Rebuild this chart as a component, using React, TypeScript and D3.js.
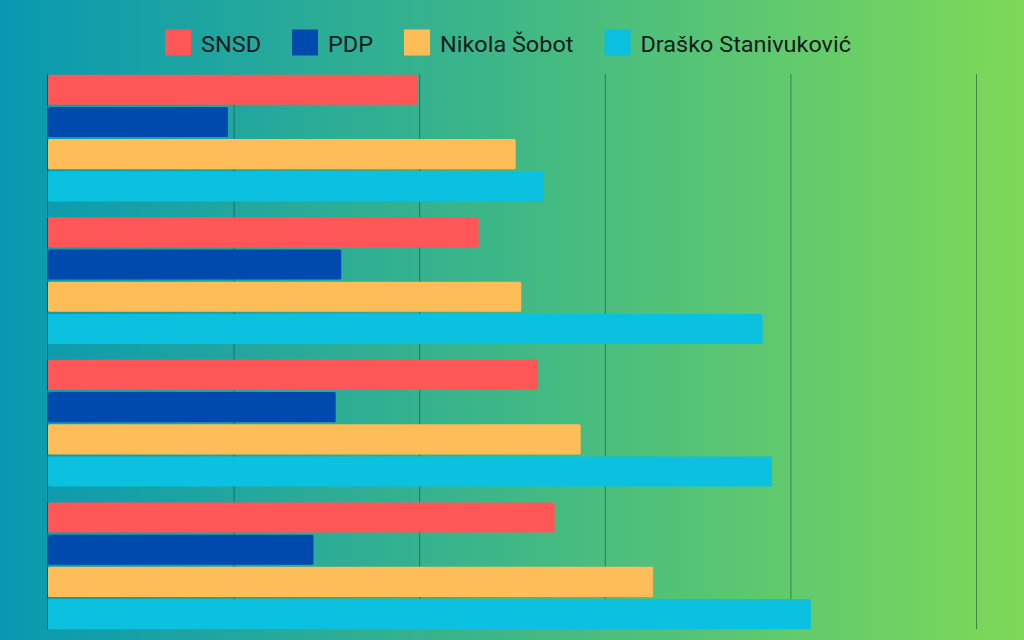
import React, { useEffect, useRef } from "react";
import * as d3 from "d3";

const groups = ["G1", "G2", "G3", "G4"];
const seriesNames = ["SNSD", "PDP", "Nikola Šobot", "Draško Stanivuković"];
const seriesColors = ["#ff5757", "#004aad", "#ffbd59", "#0cc0df"];
const snsd = [19.9, 23.2, 26.4, 27.3];
const pdp = [9.7, 15.8, 15.5, 14.3];
const sobot = [25.2, 25.5, 28.7, 32.6];
const stanivukovic = [26.7, 38.5, 39.0, 41.1];
const xTicks = [0, 10, 20, 30, 40, 50];

const W = 1024;
const H = 640;

export default function App() {
  const ref = useRef<SVGSVGElement | null>(null);

  useEffect(() => {
    const svg = d3.select(ref.current);
    svg.selectAll("*").remove();

    const defs = svg.append("defs");
    const grad = defs
      .append("linearGradient")
      .attr("id", "bg")
      .attr("x1", "0%")
      .attr("x2", "100%")
      .attr("y1", "0%")
      .attr("y2", "0%");
    grad.append("stop").attr("offset", "0%").attr("stop-color", "#0898b2");
    grad.append("stop").attr("offset", "50%").attr("stop-color", "#3fb886");
    grad.append("stop").attr("offset", "100%").attr("stop-color", "#7ed957");

    svg.append("rect").attr("width", W).attr("height", H).attr("fill", "url(#bg)");

    const values = [snsd, pdp, sobot, stanivukovic];

    const x = d3.scaleLinear().domain([0, 50]).range([48, 976]);
    const y0 = d3
      .scaleBand<string>()
      .domain(groups)
      .range([74.7, 629.2])
      .paddingInner(0.111)
      .paddingOuter(0);
    const y1 = d3
      .scaleBand<string>()
      .domain(seriesNames)
      .range([0, y0.bandwidth()])
      .paddingInner(0.065)
      .paddingOuter(0);

    const top = 74;
    const bottom = 629;

    svg
      .append("g")
      .selectAll("line")
      .data(xTicks.slice(1))
      .join("line")
      .attr("x1", (d) => x(d) + 0.5)
      .attr("x2", (d) => x(d) + 0.5)
      .attr("y1", top)
      .attr("y2", bottom)
      .attr("stroke", "rgba(20,70,50,0.55)")
      .attr("stroke-width", 1);

    const g = svg.append("g");
    groups.forEach((grp, gi) => {
      seriesNames.forEach((s, si) => {
        const v = values[si][gi];
        g.append("rect")
          .attr("x", x(0))
          .attr("y", (y0(grp) as number) + (y1(s) as number))
          .attr("width", x(v) - x(0))
          .attr("height", y1.bandwidth())
          .attr("rx", 1.5)
          .attr("fill", seriesColors[si]);
      });
    });

    svg
      .append("line")
      .attr("x1", x(0) - 0.5)
      .attr("x2", x(0) - 0.5)
      .attr("y1", top)
      .attr("y2", bottom)
      .attr("stroke", "rgba(10,60,70,0.7)")
      .attr("stroke-width", 1);

    const legend = svg.append("g");
    const sq = 26;
    const textGap = 10;
    const itemGap = 31;
    const stretch = 1.042;
    const items = seriesNames.map((name, i) => {
      const it = legend.append("g");
      it.append("rect")
        .attr("width", sq)
        .attr("height", sq)
        .attr("y", 29.5)
        .attr("fill", seriesColors[i]);
      const t = it
        .append("text")
        .attr("x", sq + textGap)
        .attr("y", 52)
        .attr("font-family", "Roboto, sans-serif")
        .attr("font-size", 22.5)
        .attr("fill", "#161a1a")
        .text(name);
      const w0 = (t.node() as SVGTextElement).getComputedTextLength();
      const w = w0 * stretch;
      t.attr("textLength", w).attr("lengthAdjust", "spacingAndGlyphs");
      return { it, w: sq + textGap + w };
    });
    const total = d3.sum(items, (d) => d.w) + itemGap * (items.length - 1);
    let cx = 508 - total / 2;
    items.forEach((d) => {
      d.it.attr("transform", `translate(${cx},0)`);
      cx += d.w + itemGap;
    });
  }, []);

  return (
    <svg
      ref={ref}
      width={W}
      height={H}
      style={{ position: "absolute", left: 0, top: 0, display: "block" }}
    />
  );
}
